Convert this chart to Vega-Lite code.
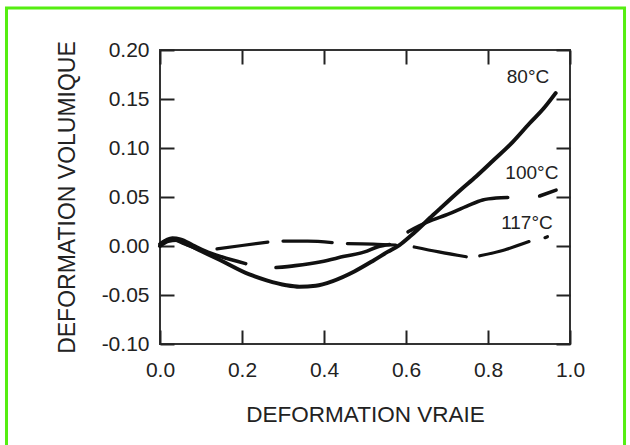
{
  "$schema": "https://vega.github.io/schema/vega-lite/v6.json",
  "autosize": {"type": "none"},
  "width": 410,
  "height": 294,
  "padding": {"left": 160, "top": 50, "right": 60, "bottom": 101},
  "background": "white",
  "config": {
    "view": {"stroke": "#333", "strokeWidth": 2},
    "font": "Liberation Sans",
    "axis": {"grid": false, "domain": false, "tickColor": "#222", "tickWidth": 2, "tickSize": -14, "labelColor": "#222", "titleColor": "#222", "labelFont": "Liberation Sans", "titleFont": "Liberation Sans", "titleFontWeight": "normal", "labelFlush": false}
  },
  "datasets": {
    "curves": [
      {"T": "80°C", "seg": "a1", "x": 0.0, "y": 0.0},
      {"T": "80°C", "seg": "a1", "x": 0.02, "y": 0.005},
      {"T": "80°C", "seg": "a1", "x": 0.04, "y": 0.006},
      {"T": "80°C", "seg": "a1", "x": 0.07, "y": 0.001},
      {"T": "80°C", "seg": "a1", "x": 0.1, "y": -0.005},
      {"T": "80°C", "seg": "a1", "x": 0.145, "y": -0.014},
      {"T": "80°C", "seg": "a1", "x": 0.218, "y": -0.029},
      {"T": "80°C", "seg": "a1", "x": 0.26, "y": -0.035},
      {"T": "80°C", "seg": "a1", "x": 0.308, "y": -0.04},
      {"T": "80°C", "seg": "a1", "x": 0.34, "y": -0.0415},
      {"T": "80°C", "seg": "a1", "x": 0.38, "y": -0.0405},
      {"T": "80°C", "seg": "a1", "x": 0.42, "y": -0.036},
      {"T": "80°C", "seg": "a1", "x": 0.474, "y": -0.026},
      {"T": "80°C", "seg": "a1", "x": 0.52, "y": -0.015},
      {"T": "80°C", "seg": "a1", "x": 0.555, "y": -0.006},
      {"T": "80°C", "seg": "a1", "x": 0.584, "y": 0.001},
      {"T": "80°C", "seg": "a1", "x": 0.613, "y": 0.011},
      {"T": "80°C", "seg": "a1", "x": 0.666, "y": 0.0316},
      {"T": "80°C", "seg": "a1", "x": 0.735, "y": 0.058},
      {"T": "80°C", "seg": "a1", "x": 0.771, "y": 0.071},
      {"T": "80°C", "seg": "a1", "x": 0.812, "y": 0.087},
      {"T": "80°C", "seg": "a1", "x": 0.86, "y": 0.106},
      {"T": "80°C", "seg": "a1", "x": 0.901, "y": 0.125},
      {"T": "80°C", "seg": "a1", "x": 0.935, "y": 0.14},
      {"T": "80°C", "seg": "a1", "x": 0.965, "y": 0.156},
      {"T": "100°C", "seg": "b1", "x": 0.0, "y": 0.002},
      {"T": "100°C", "seg": "b1", "x": 0.03, "y": 0.008},
      {"T": "100°C", "seg": "b1", "x": 0.05, "y": 0.007},
      {"T": "100°C", "seg": "b1", "x": 0.08, "y": 0.001},
      {"T": "100°C", "seg": "b1", "x": 0.11, "y": -0.005},
      {"T": "100°C", "seg": "b1", "x": 0.15, "y": -0.011},
      {"T": "100°C", "seg": "b1", "x": 0.209, "y": -0.018},
      {"T": "100°C", "seg": "b2", "x": 0.283, "y": -0.022},
      {"T": "100°C", "seg": "b2", "x": 0.33, "y": -0.02},
      {"T": "100°C", "seg": "b2", "x": 0.393, "y": -0.016},
      {"T": "100°C", "seg": "b2", "x": 0.45, "y": -0.0105},
      {"T": "100°C", "seg": "b2", "x": 0.499, "y": -0.006},
      {"T": "100°C", "seg": "b2", "x": 0.53, "y": -0.001},
      {"T": "100°C", "seg": "b2", "x": 0.56, "y": 0.0015},
      {"T": "100°C", "seg": "b3", "x": 0.605, "y": 0.0145},
      {"T": "100°C", "seg": "b3", "x": 0.65, "y": 0.024},
      {"T": "100°C", "seg": "b3", "x": 0.706, "y": 0.033},
      {"T": "100°C", "seg": "b3", "x": 0.75, "y": 0.041},
      {"T": "100°C", "seg": "b3", "x": 0.787, "y": 0.047},
      {"T": "100°C", "seg": "b3", "x": 0.82, "y": 0.049},
      {"T": "100°C", "seg": "b3", "x": 0.848, "y": 0.0495},
      {"T": "100°C", "seg": "b4", "x": 0.926, "y": 0.051},
      {"T": "100°C", "seg": "b4", "x": 0.966, "y": 0.057},
      {"T": "117°C", "seg": "c1", "x": 0.0, "y": 0.002},
      {"T": "117°C", "seg": "c1", "x": 0.02, "y": 0.006},
      {"T": "117°C", "seg": "c1", "x": 0.035, "y": 0.006},
      {"T": "117°C", "seg": "c1", "x": 0.06, "y": 0.002},
      {"T": "117°C", "seg": "c1", "x": 0.09, "y": -0.003},
      {"T": "117°C", "seg": "c2", "x": 0.139, "y": -0.003},
      {"T": "117°C", "seg": "c2", "x": 0.2, "y": 0.0005},
      {"T": "117°C", "seg": "c2", "x": 0.263, "y": 0.004},
      {"T": "117°C", "seg": "c3", "x": 0.3, "y": 0.005},
      {"T": "117°C", "seg": "c3", "x": 0.36, "y": 0.005},
      {"T": "117°C", "seg": "c3", "x": 0.42, "y": 0.0035},
      {"T": "117°C", "seg": "c4", "x": 0.457, "y": 0.0025},
      {"T": "117°C", "seg": "c4", "x": 0.52, "y": 0.002},
      {"T": "117°C", "seg": "c4", "x": 0.575, "y": 0.001},
      {"T": "117°C", "seg": "c5", "x": 0.62, "y": -0.001},
      {"T": "117°C", "seg": "c5", "x": 0.68, "y": -0.006},
      {"T": "117°C", "seg": "c5", "x": 0.747, "y": -0.011},
      {"T": "117°C", "seg": "c6", "x": 0.78, "y": -0.01},
      {"T": "117°C", "seg": "c6", "x": 0.84, "y": -0.004},
      {"T": "117°C", "seg": "c6", "x": 0.9, "y": 0.0045},
      {"T": "117°C", "seg": "c7", "x": 0.939, "y": 0.0085},
      {"T": "117°C", "seg": "c7", "x": 0.945, "y": 0.0095}
    ],
    "labels": [
      {"label": "80°C", "x": 0.8976, "y": 0.1724},
      {"label": "100°C", "x": 0.907, "y": 0.0745},
      {"label": "117°C", "x": 0.895, "y": 0.0235}
    ]
  },
  "resolve": {"axis": {"x": "independent", "y": "independent"}},
  "layer": [
    {
      "data": {"name": "curves"},
      "mark": {"type": "line", "color": "#111", "strokeCap": "round", "strokeJoin": "round", "interpolate": "monotone"},
      "encoding": {
        "x": {"field": "x", "type": "quantitative", "scale": {"domain": [0, 1], "nice": false, "zero": false},
          "axis": {"orient": "bottom", "values": [0, 0.2, 0.4, 0.6, 0.8, 1.0], "format": ".1f", "title": "DEFORMATION VRAIE", "labelFontSize": 21, "titleFontSize": 22.5, "labelPadding": 29, "titlePadding": 23}},
        "y": {"field": "y", "type": "quantitative", "scale": {"domain": [-0.1, 0.2], "nice": false, "zero": false},
          "axis": {"orient": "left", "values": [-0.1, -0.05, 0, 0.05, 0.1, 0.15, 0.2], "labelExpr": "datum.value < 0 ? '-' + format(-datum.value, '.2f') : format(datum.value, '.2f')", "title": "DEFORMATION VOLUMIQUE", "labelFontSize": 21, "titleFontSize": 23, "labelPadding": 25, "titlePadding": 22}},
        "detail": {"field": "seg"},
        "strokeWidth": {"field": "T", "type": "nominal", "scale": {"domain": ["80°C", "100°C", "117°C"], "range": [4, 3.2, 3.2]}, "legend": null}
      }
    },
    {
      "data": {"name": "labels"},
      "mark": {"type": "text", "fontSize": 19, "color": "#222", "align": "center", "baseline": "middle", "font": "Liberation Sans"},
      "encoding": {
        "x": {"field": "x", "type": "quantitative", "axis": {"orient": "top", "values": [0, 0.2, 0.4, 0.6, 0.8, 1.0], "labels": false, "title": null}},
        "y": {"field": "y", "type": "quantitative", "axis": {"orient": "right", "values": [-0.1, -0.05, 0, 0.05, 0.1, 0.15, 0.2], "labels": false, "title": null}},
        "text": {"field": "label"}
      }
    },
    {
      "data": {"values": [{"k": 1}]},
      "mark": {"type": "rect", "filled": false, "stroke": "#55ee11", "strokeWidth": 3, "clip": false},
      "encoding": {
        "x": {"datum": -0.3744, "type": "quantitative", "axis": null},
        "x2": {"datum": 1.133},
        "y": {"datum": 0.2429, "type": "quantitative", "axis": null},
        "y2": {"datum": -0.2082}
      }
    }
  ]
}
